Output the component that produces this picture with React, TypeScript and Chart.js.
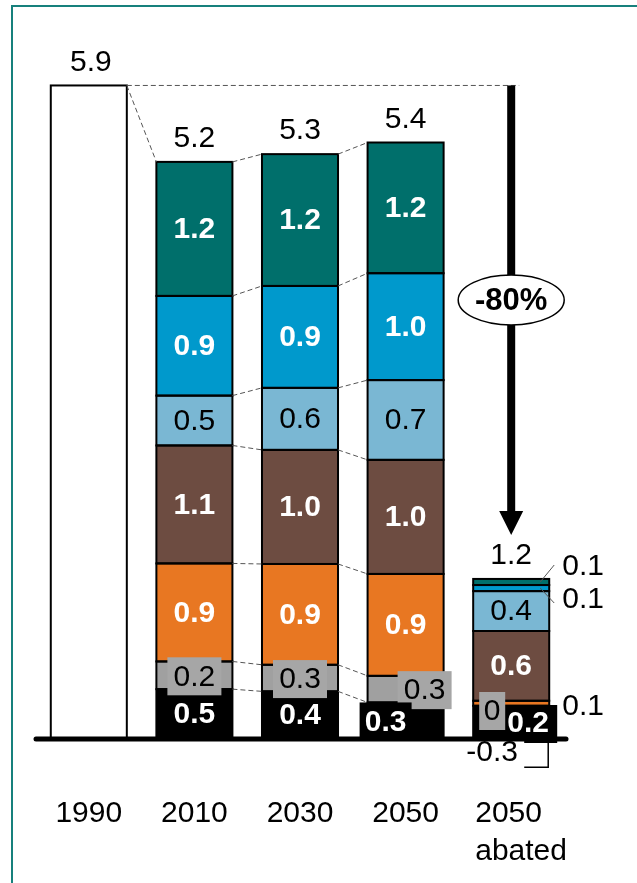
import React, { useEffect, useRef } from "react";
import { Chart, registerables } from "chart.js";

Chart.register(...registerables);

const categories = ["1990", "2010", "2030", "2050", "2050\nabated"];
// stacked segments, bottom to top
const base1990 = [5.9, null, null, null, null];
const sinks = [null, 0.45, 0.43, 0.33, 0.3];
const grayVals = [null, 0.25, 0.24, 0.24, 0];
const orangeVals = [null, 0.885, 0.91, 0.92, 0.045];
const brownVals = [null, 1.065, 1.03, 1.03, 0.63];
const lightBlueVals = [null, 0.45, 0.56, 0.72, 0.36];
const blueVals = [null, 0.9, 0.92, 0.965, 0.055];
const tealVals = [null, 1.21, 1.19, 1.18, 0.055];

const totalLabels = ["5.9", "5.2", "5.3", "5.4", "1.2"];
const sinkLabels = ["", "0.5", "0.4", "0.3", "0.2"];
const grayLabels = ["", "0.2", "0.3", "0.3", "0"];
const orangeLabels = ["", "0.9", "0.9", "0.9", "0.1"];
const brownLabels = ["", "1.1", "1.0", "1.0", "0.6"];
const lightBlueLabels = ["", "0.5", "0.6", "0.7", "0.4"];
const blueLabels = ["", "0.9", "0.9", "1.0", "0.1"];
const tealLabels = ["", "1.2", "1.2", "1.2", "0.1"];
const reductionLabel = "-80%";
const negativeLabel = "-0.3";
const negativeValue = -0.3;

const FONT = "'Liberation Sans', Arial, sans-serif";

const overlay = {
  id: "overlay",
  beforeDatasetsDraw(chart: any) {
    const ctx = chart.ctx;
    ctx.save();
    ctx.strokeStyle = "#17807c";
    ctx.lineWidth = 2;
    ctx.beginPath();
    ctx.moveTo(12, 900);
    ctx.lineTo(12, 6);
    ctx.lineTo(700, 6);
    ctx.stroke();
    ctx.restore();
  },
  afterDatasetsDraw(chart: any) {
    const ctx = chart.ctx;
    const ys = chart.scales.y;
    const xs = chart.scales.x;
    const metas = chart.data.datasets.map((_: any, i: number) => chart.getDatasetMeta(i));
    const el = (d: number, i: number) => metas[d].data[i];

    // outlines
    ctx.save();
    ctx.strokeStyle = "#000";
    ctx.lineWidth = 2;
    metas.forEach((m: any, d: number) => {
      m.data.forEach((b: any, i: number) => {
        const raw = chart.data.datasets[d].data[i];
        if (b == null || raw == null || raw === 0) return;
        const h = b.base - b.y;
        if (Math.abs(h) < 0.5) return;
        ctx.strokeRect(b.x - b.width / 2, b.y, b.width, h);
      });
    });
    ctx.restore();

    // dashed connectors
    ctx.save();
    ctx.strokeStyle = "#555";
    ctx.lineWidth = 1;
    ctx.setLineDash([5, 3]);
    const e0 = el(0, 0);
    const topStack = (i: number) => el(7, i);
    ctx.beginPath();
    ctx.moveTo(e0.x + e0.width / 2, e0.y);
    ctx.lineTo(topStack(1).x - topStack(1).width / 2, topStack(1).y);
    ctx.stroke();
    const arrowX = xs.getPixelForValue(4);
    ctx.beginPath();
    ctx.moveTo(e0.x + e0.width / 2, e0.y);
    ctx.lineTo(arrowX + 8, e0.y);
    ctx.stroke();
    for (let i = 1; i <= 2; i++) {
      for (let d = 1; d <= 7; d++) {
        const a = el(d, i);
        const b = el(d, i + 1);
        ctx.beginPath();
        ctx.moveTo(a.x + a.width / 2, a.y);
        ctx.lineTo(b.x - b.width / 2, b.y);
        ctx.stroke();
      }
    }
    ctx.restore();

    // baseline
    ctx.save();
    const zeroY = ys.getPixelForValue(0);
    ctx.strokeStyle = "#000";
    ctx.lineWidth = 5;
    ctx.lineCap = "round";
    ctx.beginPath();
    ctx.moveTo(36, zeroY);
    ctx.lineTo(566, zeroY);
    ctx.stroke();
    ctx.restore();

    // arrow
    ctx.save();
    ctx.fillStyle = "#000";
    ctx.fillRect(arrowX - 4, e0.y, 8, 512 - e0.y);
    ctx.beginPath();
    ctx.moveTo(arrowX - 12, 511);
    ctx.lineTo(arrowX + 12, 511);
    ctx.lineTo(arrowX, 535);
    ctx.closePath();
    ctx.fill();
    const ey = 300;
    ctx.beginPath();
    ctx.ellipse(arrowX, ey, 53, 25, 0, 0, Math.PI * 2);
    ctx.fillStyle = "#fff";
    ctx.fill();
    ctx.lineWidth = 1.5;
    ctx.strokeStyle = "#000";
    ctx.stroke();
    ctx.fillStyle = "#000";
    ctx.font = `bold 31px ${FONT}`;
    ctx.textAlign = "center";
    ctx.textBaseline = "middle";
    ctx.fillText(reductionLabel, arrowX, ey + 1);
    ctx.restore();

    // text labels
    ctx.save();
    ctx.textAlign = "center";
    ctx.textBaseline = "middle";
    const normal = `30px ${FONT}`;
    const bold = `bold 30px ${FONT}`;
    const text = (t: string, x: number, y: number, f: string, c: string, align = "center") => {
      ctx.font = f;
      ctx.fillStyle = c;
      ctx.textAlign = align;
      ctx.fillText(t, x, y);
    };

    for (let i = 0; i < 5; i++) {
      const top = i === 0 ? el(0, 0) : topStack(i);
      text(totalLabels[i], top.x + (i === 0 ? 2 : 0), top.y - 23, normal, "#000");
    }

    const segLabels: [number, string[], string, string][] = [
      [3, orangeLabels, bold, "#fff"],
      [4, brownLabels, bold, "#fff"],
      [5, lightBlueLabels, normal, "#000"],
      [6, blueLabels, bold, "#fff"],
      [7, tealLabels, bold, "#fff"],
    ];
    for (let i = 1; i <= 3; i++) {
      segLabels.forEach(([d, labels, f, c]) => {
        const b = el(d, i);
        text(labels[i], b.x, (b.y + b.base) / 2 + 1, f, c);
      });
      const g = el(2, i);
      const gx = g.x + (i === 3 ? 19 : 0);
      const gy = (g.y + g.base) / 2 + 1;
      ctx.fillStyle = "#a6a6a6";
      ctx.fillRect(gx - 27, gy - 19, 54, 38);
      text(grayLabels[i], gx, gy + 1, normal, "#000");
      const s = el(1, i);
      const sx = s.x + (i === 3 ? -20 : 0);
      const sy = (s.y + s.base) / 2 + (i === 3 ? 2 : 1);
      if (i === 3) {
        ctx.fillStyle = "#000";
        ctx.fillRect(sx - 26, s.y, 52, s.base - s.y + 1);
      }
      text(sinkLabels[i], sx, sy, bold, "#fff");
    }

    const ab = (d: number) => el(d, 4);
    const lb = ab(5);
    text(lightBlueLabels[4], lb.x, (lb.y + lb.base) / 2 + 1, normal, "#000");
    const br = ab(4);
    text(brownLabels[4], br.x, (br.y + br.base) / 2 + 1, bold, "#fff");
    const rightX = lb.x + lb.width / 2;
    text(tealLabels[4], rightX + 13, 567, normal, "#000", "left");
    text(blueLabels[4], rightX + 13, 600, normal, "#000", "left");
    text(orangeLabels[4], rightX + 13, 707, normal, "#000", "left");
    ctx.strokeStyle = "#555";
    ctx.lineWidth = 1;
    ctx.beginPath();
    const tl = ab(7);
    ctx.moveTo(rightX - 9, (tl.y + tl.base) / 2);
    ctx.lineTo(rightX + 5, 565);
    const bl = ab(6);
    ctx.moveTo(rightX - 9, (bl.y + bl.base) / 2);
    ctx.lineTo(rightX + 5, 603);
    ctx.stroke();

    const sk = ab(1);
    ctx.fillStyle = "#a6a6a6";
    ctx.fillRect(sk.x - 32, 692, 26, 38);
    text(grayLabels[4], sk.x - 19, 712, normal, "#000");
    ctx.fillStyle = "#000";
    ctx.fillRect(sk.x + 13, 705, 33, 38);
    text(sinkLabels[4], sk.x + 17, 724, bold, "#fff");

    const negY = ys.getPixelForValue(negativeValue) - 5;
    ctx.strokeStyle = "#000";
    ctx.lineWidth = 1.5;
    ctx.beginPath();
    ctx.moveTo(rightX - 1, zeroY);
    ctx.lineTo(rightX - 1, negY);
    ctx.lineTo(rightX - 25, negY);
    ctx.stroke();
    text(negativeLabel, sk.x - 19, 753, normal, "#000");

    for (let i = 0; i < categories.length; i++) {
      const x = xs.getPixelForValue(i);
      const lines = categories[i].split("\n");
      if (lines.length === 1) {
        text(lines[0], x, 814, normal, "#000");
      } else {
        lines.forEach((ln, k) => text(ln, x - 36, 814 + k * 38, normal, "#000", "left"));
      }
    }
    ctx.restore();
  },
};

export default function App() {
  const ref = useRef<HTMLCanvasElement>(null);
  useEffect(() => {
    if (!ref.current) return;
    const mk = (label: string, data: any[], color: string) => ({
      label,
      data,
      backgroundColor: color,
      borderWidth: 0,
      stack: "s",
    });
    const chart = new Chart(ref.current, {
      type: "bar",
      data: {
        labels: categories,
        datasets: [
          mk("1990", base1990, "#ffffff"),
          mk("Sinks", sinks, "#000000"),
          mk("Gray", grayVals, "#a0a0a0"),
          mk("Orange", orangeVals, "#e87722"),
          mk("Brown", brownVals, "#6d4c41"),
          mk("Light blue", lightBlueVals, "#7ab7d3"),
          mk("Blue", blueVals, "#0099cc"),
          mk("Teal", tealVals, "#006f6b"),
        ],
      },
      options: {
        responsive: false,
        animation: false,
        devicePixelRatio: 1,
        layout: { padding: { top: 19, bottom: 0, left: 36, right: 73 } },
        datasets: { bar: { barPercentage: 0.72, categoryPercentage: 1 } },
        plugins: { legend: { display: false }, tooltip: { enabled: false } },
        scales: {
          x: { display: false, stacked: true },
          y: { display: false, stacked: true, min: -1.3, max: 6.5 },
        },
      },
      plugins: [overlay],
    });
    return () => chart.destroy();
  }, []);
  return (
    <div style={{ position: "absolute", left: 0, top: 0, width: 637, height: 883, background: "#fff" }}>
      <canvas ref={ref} width={637} height={883} style={{ width: 637, height: 883, display: "block" }} />
    </div>
  );
}
